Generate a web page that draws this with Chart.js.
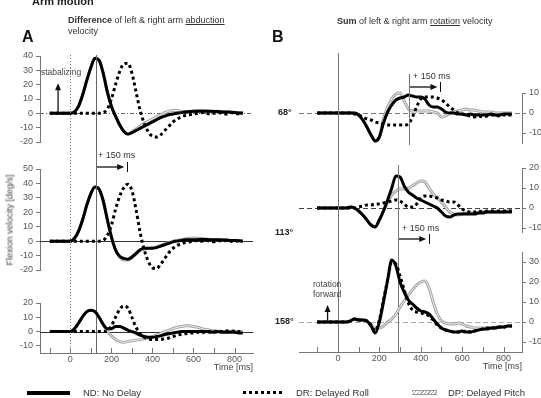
<!DOCTYPE html>
<html lang="en">
<head>
<meta charset="UTF-8">
<title>Arm motion</title>
<script src="https://cdn.jsdelivr.net/npm/chart.js"></script>
<style>
  body { margin: 0; background: #fff; font-family: "Liberation Sans", Arial, sans-serif; }
  #wrap { position: relative; width: 541px; height: 398px; overflow: hidden; background: #fff; }
  #wrap canvas { position: absolute; left: 0; top: 0; }
  .t { position: absolute; white-space: nowrap; color: #333; font-size: 9px; line-height: 11px; }
  .b { font-weight: bold; }
  .u { text-decoration: underline; }
  .lg { position: absolute; }
</style>
</head>
<body>
<div id="wrap">
  <canvas id="aTop" width="541" height="398"></canvas>
  <canvas id="aMid" width="541" height="398"></canvas>
  <canvas id="aBot" width="541" height="398"></canvas>
  <canvas id="bTop" width="541" height="398"></canvas>
  <canvas id="bMid" width="541" height="398"></canvas>
  <canvas id="bBot" width="541" height="398"></canvas>

  <!-- titles -->
  <div class="t b" style="left:32px;top:-5px;font-size:11px;line-height:13px;color:#222">Arm motion</div>
  <div class="t" style="left:68px;top:15px"><span class="b">Difference</span> of left &amp; right arm <span class="u">abduction</span><br>velocity</div>
  <div class="t" style="left:337px;top:16px"><span class="b">Sum</span> of left &amp; right arm <span class="u">rotation</span> velocity</div>
  <div class="t b" style="left:22px;top:28px;font-size:16px;line-height:18px;color:#111">A</div>
  <div class="t b" style="left:272px;top:28px;font-size:16px;line-height:18px;color:#111">B</div>

  <!-- annotations -->
  <div class="t" style="left:41px;top:67px;font-size:8.5px;color:#444">stabalizing</div>
  <div class="t" style="left:313px;top:279px;font-size:8.5px;line-height:10px;color:#444">rotation<br>forward</div>
  <div class="t b" style="left:278px;top:107px;color:#222">68°</div>
  <div class="t b" style="left:275px;top:227px;color:#222">113°</div>
  <div class="t b" style="left:275px;top:316px;color:#222">158°</div>
  <div class="t" style="left:98px;top:150px">+ 150 ms</div>
  <div class="t" style="left:413px;top:71px">+ 150 ms</div>
  <div class="t" style="left:402px;top:223px">+ 150 ms</div>
  <div class="t" style="left:10px;top:220px;transform:translate(-50%,-50%) rotate(-90deg);color:#444">Flexion velocity [deg/s]</div>

  <!-- legend -->
  <div class="lg" style="left:27px;top:391px;width:43px;height:4px;background:#000"></div>
  <div class="t" style="left:83px;top:387px;font-size:9.5px">ND: No Delay</div>
  <div class="lg" style="left:243px;top:391px;width:40px;height:3px;background:repeating-linear-gradient(90deg,#000 0 3px,transparent 3px 6px)"></div>
  <div class="t" style="left:296px;top:387px;font-size:9.5px">DR: Delayed Roll</div>
  <div class="lg" style="left:412px;top:390px;width:25px;height:3px;border-top:1px solid #9a9a9a;border-bottom:1px solid #9a9a9a;background:repeating-linear-gradient(135deg,#aaa 0 1px,#fff 1px 2.5px)"></div>
  <div class="t" style="left:448px;top:387px;font-size:9.5px">DP: Delayed Pitch</div>
</div>

<script>
// time axis (ms) shared by all traces
const timeMs = [-100, -80, -60, -40, -20, 0, 20, 40, 60, 80, 100, 120, 140, 160, 180, 200, 220, 240, 260, 280,
  300, 320, 340, 360, 380, 400, 420, 440, 460, 480, 500, 520, 540, 560, 580, 600, 620, 640, 660, 680,
  700, 720, 740, 760, 780, 800, 820, 840];

// tick values
const timeTicks = [-100, 0, 100, 200, 300, 400, 500, 600, 700, 800];
const abdTopTicks = [-20, -10, 0, 10, 20, 30, 40];
const abdMidTicks = [-20, -10, 0, 10, 20, 30, 40, 50];
const abdBotTicks = [-10, 0, 10, 20];
const rotTopTicks = [-10, 0, 10];
const rotMidTicks = [-10, 0, 10, 20];
const rotBotTicks = [-10, 0, 10, 20, 30];

// A: difference of left & right arm abduction velocity (deg/s)
const abdTop_ND = [0, 0, 0, 0, 0, 0, 1, 5, 13, 23, 32, 38.5, 37, 28, 15, 5, -2, -8, -12.5, -14.5,
  -13.5, -12, -10.5, -9, -7.5, -6, -4.5, -3, -2, -1, -0.5, 0, 0.5, 1, 1.2, 1.5, 1.5, 1.5, 1.5, 1.5,
  1.3, 1.2, 1, 1, 0.8, 0.5, 0.3, 0];
const abdTop_DR = [0, 0, 0, 0, 0, 0, 0, 0, 0, 0, 0, 0, 0, 0.5, 3, 10, 20, 29, 34.5, 35,
  28, 15, 2, -7, -13, -16, -16.5, -15, -12, -9, -6, -4, -2.5, -1.5, -1, -0.5, 0, 0.5, 0, -0.5,
  0, 0.5, 0, -0.5, 0.5, 0, -0.5, 0.5];
const abdTop_DP = [0, 0, 0, 0, 0, 0, 1, 5, 13, 23, 32, 38.5, 37, 28, 15, 5, -2, -8, -12.5, -14.5,
  -13, -11, -9, -7, -5.5, -4, -2.5, -1, 0.5, 1.5, 2, 2, 1.5, 1.2, 1.2, 1.5, 1.8, 2, 1.8, 1.5,
  1.3, 1.5, 1.2, 1, 1, 0.8, 0.5, 0.3];

const abdMid_ND = [0, 0, 0, 0, 0, 0, 2, 7, 15, 25, 33, 37.5, 36, 28, 15, 3, -6, -10.5, -12, -12.5,
  -11, -8.5, -6, -5, -5, -5, -4.5, -3.5, -2.5, -1.5, -0.5, 0, 0.5, 1, 1, 1, 1, 1.2, 1.2, 1,
  1, 1, 0.8, 0.8, 0.5, 0.5, 0.3, 0];
const abdMid_DR = [0, 0, 0, 0, 0, 0, 0, 0, 0, 0, 0, 0, 0, 0.5, 4, 11, 22, 31, 37, 39.5,
  35, 22, 6, -6, -14, -18.5, -19, -16, -12, -8, -5, -3, -2, -1, -0.5, 0, 0.5, 0, 0.5, 0,
  -0.5, 0.5, 0, 0.5, 0, -0.5, 0.5, 0];
const abdMid_DP = [0, 0, 0, 0, 0, 0, 2, 7, 15, 25, 33, 37.5, 36, 28, 15, 3, -6, -11, -13, -13,
  -11.5, -9, -6.5, -5.5, -5, -4.5, -4, -3, -2, -1, 0, 0.5, 1, 1.5, 2, 2, 2, 1.8, 1.5, 1.2,
  1, 1, 0.8, 0.8, 0.5, 0.5, 0.3, 0];

const abdBot_ND = [0, 0, 0, 0, 0, 0, 2, 6, 10.5, 14, 15, 14, 10, 5, 2, 2, 3.5, 3.5, 2.5, 1,
  0, -1, -2.5, -3.5, -4, -4, -3.5, -3, -2, -1.5, -1, -0.5, 0, 0, 0, 0, 0, 0, 0, 0,
  -0.5, 0, -0.5, -0.5, -0.5, -0.5, -1, -1];
const abdBot_DR = [0, 0, 0, 0, 0, 0, 0, 0, 0, 0, 0, 0, 0, 0, 0.5, 4, 10, 15.5, 18, 16.5,
  10, 3, -1.5, -4, -5, -5.5, -5.5, -5.5, -5, -4.5, -3.5, -2.5, -2, -1.5, -1, -1, -0.5, -1, 0, -0.5,
  0, 0.5, 0, 0.5, 0, 0.5, 0, 0.5];
const abdBot_DP = [0, 0, 0, 0, 0, 0, 2, 6, 10.5, 14, 15, 14, 10, 5, 0, -3, -5.5, -7, -7.5, -7,
  -6.5, -6, -5.5, -5, -4.5, -3.5, -2.5, -1.5, 0, 1, 2, 3, 3.5, 4, 4, 3.5, 3, 2, 1.5, 1,
  0.5, 0, 0, 0, 0, 0, 0, 0];

// B: sum of left & right arm rotation velocity (deg/s)
const rotTop_ND = [0, 0, 0, 0, 0, 0, 0, 0, 0, 0, -1, -3.5, -7, -11, -14, -12, -5, 0.5, 4, 6.5,
  7.5, 8, 9, 8.5, 8, 8, 7, 4, 3, 3, 2, 0.5, 0, 0, -0.5, -0.5, -1, -0.5, -1, -1,
  -1, -1, -0.5, -1, -1, -0.5, -0.5, -0.5];
const rotTop_DR = [0, 0, 0, 0, 0, 0, 0, 0, 0, -0.5, -1, -2, -3, -3.5, -4.5, -5, -5.5, -6, -6, -6,
  -6, -6, -5.5, -2, 3, 7, 8, 8, 8, 7.5, 6.5, 5, 3, 1.5, 0, -0.5, -1, -1.5, -2, -1.5,
  -2, -1.5, -1, -1, -1.5, -1, -1, -1];
const rotTop_DP = [0, 0, 0, 0, 0, 0, 0, 0, 0, 0, -1, -3.5, -7, -11, -14, -12, -3, 3, 7, 9.5,
  10, 6, 2, 1, 1, 1, 1, 1, 0.5, 0, -2, -1.5, 0, 0.5, 1, 1.5, 2, 1.5, 1.5, 1,
  0.5, 0.5, 0.5, 0, 0, 0, 0, 0];

const rotMid_ND = [0, 0, 0, 0, 0, 0, 0, 0, 0.5, 0, -1.5, -3.5, -6, -8.5, -9.5, -6, -1.5, 4, 10, 16,
  15.5, 11, 8, 6.5, 5, 4, 3, 2, 1, 0, -2, -4, -4.5, -3.5, -3, -3, -3, -3, -3, -2.5,
  -2.5, -2, -2, -2, -2, -2, -2, -2];
const rotMid_DR = [0, 0, 0, 0, 0, 0, 0, 0, 0, 0, 0.5, 1, 1.5, 1.5, 2, 2, 2.5, 3, 3.5, 4,
  3.5, 2, 0.5, 0.5, 2, 5, 6, 6, 5.5, 5, 4, 3.5, 3, 3, 1.5, -0.5, -1.5, -2, -2, -1.5,
  -2, -1.5, -1.5, -1.5, -1.5, -1.5, -1.5, -1.5];
const rotMid_DP = [0, 0, 0, 0, 0, 0, 0, 0, 0.5, 0, -1.5, -3.5, -6, -8.5, -9.5, -6, -1.5, 3, 6.5, 8.5,
  9.5, 9.5, 10, 11, 12.5, 13.5, 13, 10, 7, 5, 3, 0.5, -2, -3, -3.5, -3, -2.5, -2.5, -2.5, -2,
  -2, -2, -2, -2, -2, -2, -1.5, -1.5];

const rotBot_ND = [0, 0, 0, 0, 0, 0, 0, 0, 0.5, 1.5, 1, 1, 0.5, -2, -5.5, 0, 10, 21, 31, 28,
  20, 15, 11, 9, 7, 5.5, 5, 4, 1.5, -1, -3, -4, -4.5, -5, -5, -4.5, -5, -5, -4.5, -4,
  -3.5, -3.5, -3, -3, -2.5, -2.5, -2, -2];
const rotBot_DR = [0, 0, 0, 0, 0, 0, 0, 0, 0.5, 1.5, 1, 1, 0.5, -1.5, -4.5, 1, 11, 21, 30, 29,
  23, 16, 9.5, 6, 5, 4.5, 4, 3, 1, -1.5, -3, -4, -4.5, -5, -5, -5, -4.5, -5, -4.5, -4,
  -3.5, -3, -3, -3, -2.5, -2.5, -2, -2];
const rotBot_DP = [0, 0, 0, 0, 0, 0, 0, 0, 0.5, 1.5, 1, 1, 0.5, -1.5, -3, -3, -2, 0, 1.5, 4,
  7.5, 10.5, 13.5, 16, 18.5, 20, 20.5, 17, 10, 4, 0.5, -0.5, -1, -1, -0.5, -1, -2, -2.5, -3, -3,
  -3, -3, -3, -2.5, -2.5, -2.5, -2, -2];

Chart.defaults.font.family = '"Liberation Sans", Arial, sans-serif';
Chart.defaults.font.size = 9;
Chart.defaults.color = '#555';

// zero lines, reference lines, arrows and inward x ticks
const decor = {
  id: 'decor',
  beforeDatasetsDraw(chart, args, o) {
    const { ctx, chartArea: a, scales: { x, y } } = chart;
    ctx.save();
    if (o.zero) {
      ctx.strokeStyle = o.zero.color;
      ctx.lineWidth = 1;
      ctx.setLineDash(o.zero.dash || []);
      const yy = Math.round(y.getPixelForValue(0)) + 0.5;
      ctx.beginPath(); ctx.moveTo(a.left, yy); ctx.lineTo(a.right, yy); ctx.stroke();
    }
    (o.vlines || []).forEach(v => {
      ctx.strokeStyle = v.color || '#777';
      ctx.lineWidth = 1;
      ctx.setLineDash(v.dash || []);
      const xx = Math.round(x.getPixelForValue(v.t)) + 0.5;
      ctx.beginPath(); ctx.moveTo(xx, v.y1); ctx.lineTo(xx, v.y2); ctx.stroke();
    });
    ctx.setLineDash([]);
    if (o.xTicks) {
      ctx.strokeStyle = '#777';
      x.ticks.forEach(tk => {
        const xx = Math.round(x.getPixelForValue(tk.value)) + 0.5;
        ctx.beginPath(); ctx.moveTo(xx, a.bottom); ctx.lineTo(xx, a.bottom - 5); ctx.stroke();
      });
    }
    ctx.restore();
  },
  afterDatasetsDraw(chart, args, o) {
    const { ctx, scales: { x, y } } = chart;
    ctx.save();
    ctx.strokeStyle = '#111';
    ctx.fillStyle = '#111';
    ctx.lineWidth = 1.3;
    (o.upArrows || []).forEach(ar => {
      const xx = x.getPixelForValue(ar.t);
      const y1 = y.getPixelForValue(ar.v1), y2 = y.getPixelForValue(ar.v2);
      ctx.beginPath(); ctx.moveTo(xx, y1); ctx.lineTo(xx, y2 + 5); ctx.stroke();
      ctx.beginPath(); ctx.moveTo(xx, y2); ctx.lineTo(xx - 3, y2 + 7); ctx.lineTo(xx + 3, y2 + 7); ctx.closePath(); ctx.fill();
    });
    (o.spans || []).forEach(sp => {
      const x1 = x.getPixelForValue(sp.t1), x2 = x.getPixelForValue(sp.t2);
      const tip = x2 - 3;
      ctx.lineWidth = 1.3;
      ctx.beginPath(); ctx.moveTo(x1, sp.py); ctx.lineTo(tip - 5, sp.py); ctx.stroke();
      ctx.beginPath(); ctx.moveTo(tip, sp.py); ctx.lineTo(tip - 7, sp.py - 3); ctx.lineTo(tip - 7, sp.py + 3); ctx.closePath(); ctx.fill();
      ctx.lineWidth = 1;
      ctx.beginPath(); ctx.moveTo(Math.round(x2) + 0.5, sp.py - 5); ctx.lineTo(Math.round(x2) + 0.5, sp.py + 5); ctx.stroke();
    });
    ctx.restore();
  }
};

function traces(nd, dr, dp) {
  const pts = v => timeMs.map((t, i) => ({ x: t, y: v[i] }));
  return [
    { label: 'ND', data: pts(nd), borderColor: '#000', borderWidth: 3, order: 1 },
    { label: 'DR', data: pts(dr), borderColor: '#000', borderWidth: 3, borderDash: [3, 3], order: 2 },
    { label: 'DP', data: pts(dp), borderColor: '#f2f2f2', borderWidth: 1, order: 3 },
    { label: 'DP', data: pts(dp), borderColor: '#a3a3a3', borderWidth: 3, order: 4 }
  ];
}

// box = chart area in page pixels
function panel(id, side, box, xr, yr, yTicks, datasets, deco, showX) {
  const yWidth = side === 'left' ? box.left : 541 - box.right;
  const xHeight = showX ? 20 : 0;
  return new Chart(document.getElementById(id), {
    type: 'line',
    data: { datasets },
    plugins: [decor],
    options: {
      responsive: false,
      animation: false,
      layout: {
        padding: {
          left: side === 'left' ? 0 : box.left,
          right: side === 'left' ? 541 - box.right : 0,
          top: box.top,
          bottom: 398 - box.bottom - xHeight
        }
      },
      elements: {
        point: { radius: 0 },
        line: { cubicInterpolationMode: 'monotone', borderCapStyle: 'butt', fill: false }
      },
      datasets: { line: { clip: false } },
      scales: {
        x: {
          type: 'linear', min: xr[0], max: xr[1], display: showX,
          afterFit: s => { s.height = xHeight; },
          afterBuildTicks: s => { s.ticks = timeTicks.map(v => ({ value: v })); },
          ticks: {
            autoSkip: false, maxRotation: 0, padding: 1,
            callback: v => (v % 200 === 0 ? v : '')
          },
          grid: { display: false, drawTicks: false },
          border: { display: true, color: '#777', width: 1 },
          title: { display: true, text: 'Time [ms]', align: 'end', padding: 0, font: { size: 9 }, color: '#444' }
        },
        y: {
          position: side, min: yr[0], max: yr[1],
          afterFit: s => { s.width = yWidth; },
          afterBuildTicks: s => { s.ticks = yTicks.map(v => ({ value: v })); },
          ticks: { autoSkip: false, padding: 3 },
          grid: { display: true, drawOnChartArea: false, drawTicks: true, tickLength: 4, color: '#777' },
          border: { display: true, color: '#777', width: 1 }
        }
      },
      plugins: { legend: { display: false }, tooltip: { enabled: false }, decor: deco }
    }
  });
}

const xA = [-148, 890], xB = [-188, 889];

panel('aTop', 'left', { left: 40, right: 253, top: 56, bottom: 142 }, xA, [-20, 40], abdTopTicks,
  traces(abdTop_ND, abdTop_DR, abdTop_DP),
  { zero: { color: '#666', dash: [4, 2, 1, 2] }, upArrows: [{ t: -60, v1: 0, v2: 21 }] }, false);

panel('aMid', 'left', { left: 40, right: 253, top: 169, bottom: 270 }, xA, [-20, 50], abdMidTicks,
  traces(abdMid_ND, abdMid_DR, abdMid_DP),
  { zero: { color: '#333' }, spans: [{ t1: 127, t2: 277, py: 167 }] }, false);

panel('aBot', 'left', { left: 40, right: 253, top: 303, bottom: 353 }, xA, [-15, 20], abdBotTicks,
  traces(abdBot_ND, abdBot_DR, abdBot_DP),
  {
    zero: { color: '#333' }, xTicks: true,
    vlines: [{ t: 0, y1: 55, y2: 353, dash: [1, 2], color: '#777' }, { t: 127, y1: 55, y2: 353, color: '#666' }]
  }, true);

panel('bTop', 'right', { left: 299, right: 522, top: 93, bottom: 143 }, xB, [-15, 10], rotTopTicks,
  traces(rotTop_ND, rotTop_DR, rotTop_DP),
  { zero: { color: '#777', dash: [5, 3] }, spans: [{ t1: 345, t2: 495, py: 87 }] }, false);

panel('bMid', 'right', { left: 299, right: 522, top: 168, bottom: 232 }, xB, [-12, 20], rotMidTicks,
  traces(rotMid_ND, rotMid_DR, rotMid_DP),
  { zero: { color: '#444', dash: [5, 3] }, spans: [{ t1: 291, t2: 441, py: 239 }] }, false);

panel('bBot', 'right', { left: 299, right: 522, top: 252, bottom: 352 }, xB, [-15, 35], rotBotTicks,
  traces(rotBot_ND, rotBot_DR, rotBot_DP),
  {
    zero: { color: '#aaa', dash: [5, 3] }, xTicks: true, upArrows: [{ t: -50, v1: 0, v2: 8.5 }],
    vlines: [{ t: 0, y1: 53, y2: 352, color: '#777' }, { t: 345, y1: 74, y2: 145, color: '#777' },
      { t: 291, y1: 165, y2: 352, color: '#777' }]
  }, true);
</script>
</body>
</html>
